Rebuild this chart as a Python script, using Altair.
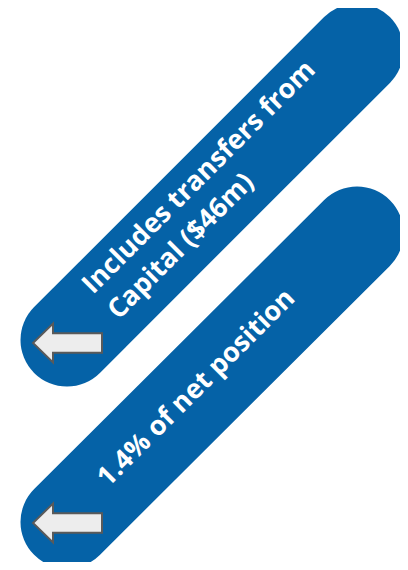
import altair as alt
import pandas as pd

# Pill (rounded band) geometry, in page pixels
pill_id = ["capital", "net"]
pill_x1 = [67, 67]
pill_y1 = [340, 522]
pill_x2 = [357, 357]
pill_y2 = [50, 233]

# Callout texts
labels = ["Includes transfers from\nCapital ($46m)", "1.4% of net position"]
label_x = [93, 108]
label_y = [295, 488]

# Arrow icons
arrow_x = [67.5, 67.5]
arrow_y = [343, 523]

BLUE = "#0562A7"
W, H = 392, 554
xs = alt.Scale(domain=[8, 8 + W], nice=False, zero=False)
ys = alt.Scale(domain=[8, 8 + H], nice=False, zero=False, reverse=True)

pills = pd.DataFrame({"id": pill_id, "x": pill_x1, "y": pill_y1, "x2": pill_x2, "y2": pill_y2})
texts = pd.DataFrame({"label": labels, "x": label_x, "y": label_y})
arrows = pd.DataFrame({"x": arrow_x, "y": arrow_y})

band = alt.Chart(pills).mark_rule(
    color=BLUE, strokeWidth=93, strokeCap="round"
).encode(
    x=alt.X("x:Q", scale=xs, axis=None),
    y=alt.Y("y:Q", scale=ys, axis=None),
    x2="x2:Q",
    y2="y2:Q",
)

arrow_path = "M -1 0 L -0.42 -0.565 L -0.42 -0.28 L 1 -0.28 L 1 0.28 L -0.42 0.28 L -0.42 0.565 Z"
arrow = alt.Chart(arrows).mark_point(
    shape=arrow_path, size=4761, filled=True, fill="#EDEDED", stroke="#5A5A5A",
    strokeWidth=2, opacity=1, fillOpacity=1, strokeJoin="miter"
).encode(
    x=alt.X("x:Q", scale=xs, axis=None),
    y=alt.Y("y:Q", scale=ys, axis=None),
)

text = alt.Chart(texts).mark_text(
    angle=315, align="left", baseline="alphabetic", lineBreak="\n", lineHeight=36,
    font="Open Sans", fontWeight="bold", fontSize=27, color="white"
).encode(
    x=alt.X("x:Q", scale=xs, axis=None),
    y=alt.Y("y:Q", scale=ys, axis=None),
    text="label:N",
)

chart = alt.layer(band, arrow, text).properties(
    width=W, height=H, padding=0, autosize="none"
).configure_view(strokeWidth=0)

chart.save("out.html", embed_options={"renderer": "svg", "actions": False})
